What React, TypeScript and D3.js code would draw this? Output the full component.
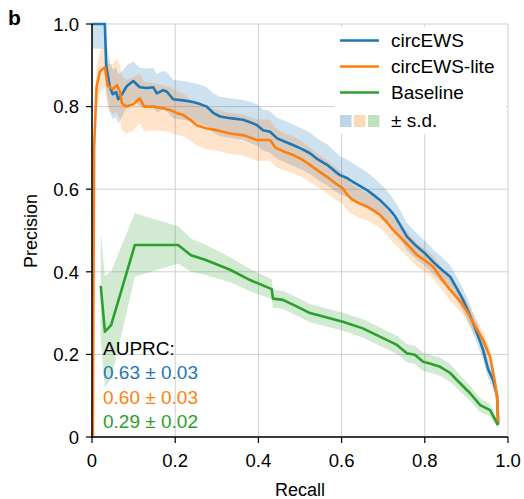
import React from "react";
import * as d3 from "d3";

const xTicks = [0, 0.2, 0.4, 0.6, 0.8, 1.0];
const yTicks = [0, 0.2, 0.4, 0.6, 0.8, 1.0];
const xTickLabels = ["0", "0.2", "0.4", "0.6", "0.8", "1.0"];
const yTickLabels = ["0", "0.2", "0.4", "0.6", "0.8", "1.0"];

const seriesNames = ["circEWS", "circEWS-lite", "Baseline"];
const seriesColors = ["#1f77b4", "#ff7f0e", "#2ca02c"];
const auprcLabels = ["0.63 ± 0.03", "0.60 ± 0.03", "0.29 ± 0.02"];

const blueRecall = [0, 0.031, 0.034, 0.043, 0.050, 0.058, 0.063, 0.072, 0.084, 0.099, 0.115, 0.132, 0.147, 0.156, 0.171, 0.180, 0.195, 0.219, 0.243, 0.260, 0.276, 0.291, 0.308, 0.332, 0.363, 0.380, 0.397, 0.411, 0.428, 0.445, 0.464, 0.483, 0.505, 0.524, 0.543, 0.565, 0.582, 0.596, 0.613, 0.627, 0.644, 0.661, 0.678, 0.692, 0.704, 0.716, 0.728, 0.740, 0.757, 0.781, 0.800, 0.820, 0.841, 0.861, 0.877, 0.892, 0.904, 0.916, 0.928, 0.940, 0.952, 0.964, 0.974, 0.976];
const bluePrecision = [1.0, 1.0, 0.90, 0.847, 0.83, 0.835, 0.818, 0.83, 0.85, 0.862, 0.847, 0.845, 0.847, 0.832, 0.84, 0.836, 0.818, 0.815, 0.811, 0.806, 0.80, 0.785, 0.776, 0.772, 0.768, 0.762, 0.755, 0.743, 0.739, 0.723, 0.715, 0.707, 0.697, 0.687, 0.672, 0.659, 0.645, 0.634, 0.627, 0.618, 0.608, 0.598, 0.585, 0.574, 0.562, 0.55, 0.535, 0.515, 0.485, 0.461, 0.445, 0.424, 0.405, 0.388, 0.36, 0.332, 0.305, 0.276, 0.245, 0.211, 0.165, 0.138, 0.10, 0.03];
const blueSd = [0.06, 0.06, 0.06, 0.06, 0.06, 0.06, 0.06, 0.055, 0.05, 0.047, 0.047, 0.047, 0.047, 0.047, 0.047, 0.047, 0.047, 0.047, 0.047, 0.047, 0.047, 0.048, 0.048, 0.048, 0.048, 0.05, 0.05, 0.05, 0.05, 0.05, 0.05, 0.05, 0.05, 0.05, 0.05, 0.05, 0.048, 0.046, 0.045, 0.045, 0.044, 0.043, 0.042, 0.04, 0.04, 0.038, 0.036, 0.035, 0.033, 0.032, 0.03, 0.03, 0.03, 0.028, 0.028, 0.027, 0.026, 0.025, 0.025, 0.024, 0.022, 0.02, 0.018, 0.005];

const orangeRecall = [0.002, 0.005, 0.011, 0.019, 0.031, 0.038, 0.050, 0.060, 0.067, 0.072, 0.082, 0.099, 0.115, 0.125, 0.147, 0.171, 0.188, 0.204, 0.219, 0.236, 0.252, 0.276, 0.300, 0.332, 0.363, 0.397, 0.428, 0.442, 0.464, 0.483, 0.505, 0.524, 0.543, 0.565, 0.584, 0.603, 0.615, 0.627, 0.644, 0.661, 0.678, 0.692, 0.709, 0.724, 0.748, 0.764, 0.781, 0.800, 0.820, 0.839, 0.861, 0.875, 0.889, 0.904, 0.916, 0.928, 0.940, 0.957, 0.969, 0.974, 0.977];
const orangePrecision = [0.0, 0.70, 0.848, 0.885, 0.895, 0.85, 0.842, 0.852, 0.836, 0.808, 0.80, 0.806, 0.82, 0.80, 0.80, 0.796, 0.792, 0.784, 0.78, 0.768, 0.755, 0.747, 0.743, 0.735, 0.731, 0.719, 0.719, 0.70, 0.69, 0.683, 0.672, 0.659, 0.645, 0.630, 0.615, 0.602, 0.585, 0.574, 0.565, 0.558, 0.548, 0.538, 0.52, 0.501, 0.477, 0.46, 0.441, 0.428, 0.412, 0.385, 0.356, 0.34, 0.324, 0.30, 0.276, 0.256, 0.235, 0.194, 0.131, 0.09, 0.034];
const orangeSd = [0, 0.04, 0.05, 0.05, 0.05, 0.055, 0.06, 0.065, 0.065, 0.065, 0.065, 0.065, 0.06, 0.06, 0.058, 0.055, 0.055, 0.053, 0.052, 0.05, 0.05, 0.05, 0.05, 0.05, 0.05, 0.05, 0.05, 0.047, 0.045, 0.045, 0.043, 0.042, 0.04, 0.04, 0.04, 0.038, 0.037, 0.036, 0.035, 0.034, 0.033, 0.032, 0.031, 0.03, 0.03, 0.03, 0.028, 0.028, 0.027, 0.026, 0.025, 0.025, 0.024, 0.023, 0.022, 0.022, 0.02, 0.018, 0.015, 0.01, 0.005];

const greenRecall = [0.021, 0.031, 0.046, 0.103, 0.207, 0.238, 0.272, 0.332, 0.380, 0.432, 0.435, 0.459, 0.488, 0.524, 0.603, 0.651, 0.692, 0.733, 0.757, 0.776, 0.796, 0.812, 0.837, 0.861, 0.877, 0.909, 0.933, 0.957, 0.976];
const greenPrecision = [0.366, 0.255, 0.271, 0.465, 0.465, 0.44, 0.429, 0.405, 0.38, 0.358, 0.335, 0.332, 0.318, 0.30, 0.279, 0.263, 0.243, 0.223, 0.203, 0.199, 0.182, 0.178, 0.17, 0.155, 0.138, 0.106, 0.077, 0.065, 0.029];
const greenSd = [0.13, 0.135, 0.13, 0.077, 0.045, 0.04, 0.037, 0.03, 0.027, 0.024, 0.022, 0.022, 0.022, 0.022, 0.022, 0.022, 0.022, 0.022, 0.022, 0.022, 0.022, 0.022, 0.022, 0.022, 0.02, 0.018, 0.017, 0.015, 0.008];

type Pt = { r: number; p: number; sd: number };
const build = (r: number[], p: number[], s: number[]): Pt[] =>
  r.map((v, i) => ({ r: v, p: p[i], sd: s[i] }));

const series: Pt[][] = [
  build(blueRecall, bluePrecision, blueSd),
  build(orangeRecall, orangePrecision, orangeSd),
  build(greenRecall, greenPrecision, greenSd),
];

const FONT = "'Liberation Sans', Arial, Helvetica, sans-serif";

export default function App() {
  const left = 92, right = 508, top = 24, bottom = 437;
  const x = d3.scaleLinear().domain([0, 1]).range([left, right]);
  const y = d3.scaleLinear().domain([0, 1]).range([bottom, top]);
  const clamp = (v: number) => Math.max(0, Math.min(1, v));

  const line = d3.line<Pt>().x(d => x(d.r)).y(d => y(d.p));
  const area = d3.area<Pt>()
    .x(d => x(d.r))
    .y0(d => y(clamp(d.p - d.sd)))
    .y1(d => y(clamp(d.p + d.sd)));

  const legX = 340, legTextX = 391;
  const legRows = [40.5, 66.5, 92.5];

  return (
    <svg width={524} height={499} style={{ position: "absolute", left: 0, top: 0, background: "#fff" }} fontFamily={FONT}>
      <rect x={0} y={0} width={524} height={499} fill="#fff" />
      {/* grid */}
      {xTicks.map((t, i) => (
        <line key={"gx" + i} x1={x(t)} x2={x(t)} y1={top} y2={bottom} stroke="#cfcfcf" strokeWidth={1} />
      ))}
      {yTicks.map((t, i) => (
        <line key={"gy" + i} x1={left} x2={right} y1={y(t)} y2={y(t)} stroke="#cfcfcf" strokeWidth={1} />
      ))}
      {/* bands */}
      {series.map((s, i) => (
        <path key={"a" + i} d={area(s) || ""} fill={seriesColors[i]} fillOpacity={0.22} stroke="none" />
      ))}
      {/* lines */}
      {series.map((s, i) => (
        <path key={"l" + i} d={line(s) || ""} fill="none" stroke={seriesColors[i]} strokeWidth={2.6} strokeLinejoin="round" />
      ))}
      {/* spines */}
      <line x1={left} x2={left} y1={top} y2={bottom + 0.5} stroke="#000" strokeWidth={1.5} />
      <line x1={left - 0.5} x2={right} y1={bottom} y2={bottom} stroke="#000" strokeWidth={1.5} />
      {/* ticks */}
      {xTicks.map((t, i) => (
        <g key={"tx" + i}>
          <line x1={x(t)} x2={x(t)} y1={bottom} y2={bottom + 6} stroke="#000" strokeWidth={1.2} />
          <text x={x(t)} y={467} textAnchor="middle" fontSize={18.5} fill="#000">{xTickLabels[i]}</text>
        </g>
      ))}
      {yTicks.map((t, i) => (
        <g key={"ty" + i}>
          <line x1={left - 6} x2={left} y1={y(t)} y2={y(t)} stroke="#000" strokeWidth={1.2} />
          <text x={79} y={y(t) + 6.7} textAnchor="end" fontSize={18.5} fill="#000">{yTickLabels[i]}</text>
        </g>
      ))}
      {/* axis labels */}
      <text x={300} y={496} textAnchor="middle" fontSize={18} fill="#000">Recall</text>
      <text transform={`translate(37,231) rotate(-90)`} textAnchor="middle" fontSize={18} fill="#000">Precision</text>
      {/* panel letter */}
      <text x={8} y={25} fontSize={21} fontWeight="bold" fill="#000">b</text>
      {/* legend */}
      <rect x={334} y={27} width={172} height={107} fill="#fff" stroke="none" />
      {seriesNames.map((n, i) => (
        <g key={"lg" + i}>
          <line x1={legX} x2={legX + 39} y1={legRows[i]} y2={legRows[i]} stroke={seriesColors[i]} strokeWidth={2.6} />
          <text x={legTextX} y={legRows[i] + 6.5} fontSize={19} fill="#000">{n}</text>
        </g>
      ))}
      {seriesColors.map((c, i) => (
        <rect key={"sq" + i} x={legX + i * 14} y={115} width={11.5} height={12} fill={c} fillOpacity={0.3} />
      ))}
      <text x={legTextX} y={127} fontSize={19} fill="#000">± s.d.</text>
      {/* AUPRC annotation */}
      <text x={103} y={355} fontSize={19} fill="#000">AUPRC:</text>
      {auprcLabels.map((t, i) => (
        <text key={"au" + i} x={103} y={379 + i * 24.5} fontSize={19} fill={seriesColors[i]}>{t}</text>
      ))}
    </svg>
  );
}
